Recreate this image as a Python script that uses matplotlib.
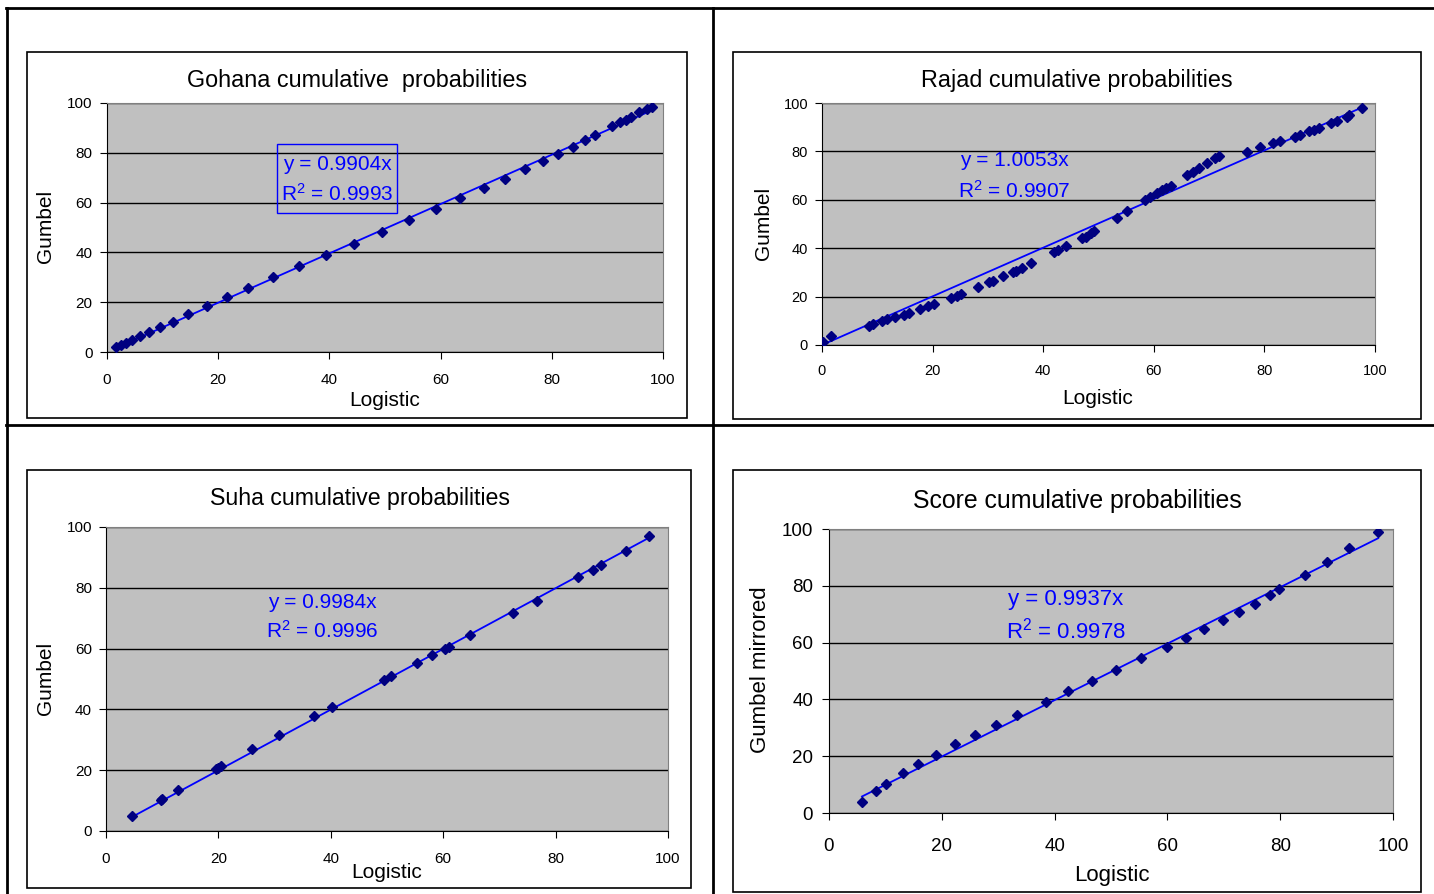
import matplotlib
matplotlib.use('Agg')
import matplotlib.pyplot as plt
from matplotlib.patches import Rectangle
from matplotlib.lines import Line2D

plt.rcParams['font.family'] = ['Liberation Sans', 'DejaVu Sans']
plt.rcParams['mathtext.fontset'] = 'custom'
plt.rcParams['mathtext.rm'] = 'Liberation Sans'
plt.rcParams['mathtext.default'] = 'regular'

W, H = 1434, 894

# Gohana
gohana_x = [1.64, 2.43, 3.41, 4.46, 5.90, 7.54, 9.51, 11.80, 14.62, 17.90, 21.51, 25.44,
            29.90, 34.56, 39.41, 44.46, 49.38, 54.36, 59.21, 63.54, 67.80, 71.54, 75.21,
            78.43, 81.18, 83.80, 85.90, 87.74, 90.89, 92.33, 93.31, 94.30, 95.74, 97.05, 98.03]
gohana_y = [2.00, 2.95, 3.76, 4.70, 6.44, 7.92, 10.07, 12.21, 15.17, 18.66, 22.01, 25.64,
            29.93, 34.36, 38.79, 43.49, 48.32, 52.89, 57.45, 61.88, 65.91, 69.66, 73.42,
            76.78, 79.60, 82.42, 84.97, 87.11, 90.60, 92.21, 93.29, 94.23, 96.24, 97.72, 98.39]

# Rajad
rajad_x = [0.13, 1.64, 8.55, 9.21, 10.86, 11.71, 13.29, 14.80, 15.79, 17.76, 19.08, 20.26,
           23.36, 24.34, 25.13, 28.29, 30.26, 30.92, 32.76, 34.54, 35.00, 36.18, 37.83,
           41.97, 42.63, 44.08, 47.04, 47.70, 48.68, 49.21, 53.29, 55.13, 58.42, 59.34,
           60.53, 61.51, 62.17, 63.03, 65.92, 67.11, 68.09, 69.61, 71.05, 71.71, 76.84,
           79.28, 81.58, 82.89, 85.53, 86.51, 88.03, 88.95, 89.80, 92.11, 93.09, 94.87,
           95.26, 97.70]
rajad_y = [1.38, 3.60, 8.02, 8.58, 9.96, 10.79, 11.62, 12.59, 13.42, 14.94, 15.91, 17.01,
           19.36, 20.19, 21.02, 23.93, 26.00, 26.56, 28.49, 30.15, 30.71, 31.81, 33.75,
           38.45, 39.14, 40.94, 44.26, 44.81, 46.20, 47.17, 52.28, 55.33, 60.03, 61.13,
           62.66, 63.90, 64.87, 65.84, 70.26, 71.65, 73.03, 75.38, 77.46, 78.28, 79.94,
           81.88, 83.40, 84.37, 86.03, 86.86, 88.24, 88.93, 89.63, 91.56, 92.39, 94.33,
           94.88, 97.93]

# Suha
suha_x = [4.63, 9.78, 10.05, 12.89, 19.50, 19.96, 20.49, 25.91, 30.80, 37.08, 40.25, 49.44,
          50.76, 55.25, 57.96, 60.34, 61.00, 64.84, 72.37, 76.67, 84.07, 86.58, 88.10,
          92.53, 96.63]
suha_y = [4.95, 10.12, 10.56, 13.53, 20.35, 20.79, 21.34, 26.95, 31.57, 37.95, 40.81, 49.61,
          50.94, 55.23, 57.76, 59.96, 60.62, 64.47, 71.62, 75.80, 83.39, 85.81, 87.57,
          92.19, 96.92]

# Score
score_x = [5.85, 8.34, 10.18, 13.14, 15.70, 19.05, 22.40, 25.82, 29.57, 33.31, 38.44, 42.38,
           46.65, 50.92, 55.39, 59.92, 63.21, 66.49, 69.78, 72.67, 75.56, 78.19, 79.83,
           84.43, 88.30, 92.12, 97.37]
score_y = [3.76, 7.76, 10.35, 14.12, 17.18, 20.59, 24.24, 27.41, 31.06, 34.47, 39.18, 42.82,
           46.47, 50.24, 54.59, 58.47, 61.65, 64.82, 67.88, 70.71, 73.76, 76.59, 78.71,
           83.76, 88.35, 93.18, 98.94]

titles = ['Gohana cumulative  probabilities', 'Rajad cumulative probabilities',
          'Suha cumulative probabilities', 'Score cumulative probabilities']
ylabels = ['Gumbel', 'Gumbel', 'Gumbel', 'Gumbel mirrored']
slopes = [0.9904, 1.0053, 0.9984, 0.9937]
r2s = ['0.9993', '0.9907', '0.9996', '0.9978']
ticks = [0, 20, 40, 60, 80, 100]

data = [(gohana_x, gohana_y), (rajad_x, rajad_y), (suha_x, suha_y), (score_x, score_y)]

# layout in pixels: plot area (l, t, r, b), chart box, title pos, label positions, text pos
panels = [
    dict(ax=(107, 103, 663, 352), box=(27, 52, 687, 418), title=(357, 80, 16.8),
         xl=(385, 400), yl=(46, 226), lab=15, tick=11, xpad=10, ypad=5.5,
         eq=(337, 164, 194, 15), frame=(277, 144, 397, 213)),
    dict(ax=(822, 103, 1375, 345), box=(733, 52, 1421, 419), title=(1077, 80, 16.8),
         xl=(1098, 398), yl=(764, 223), lab=15, tick=10.5, xpad=8.5, ypad=5,
         eq=(1014, 160, 191, 15), frame=None),
    dict(ax=(106, 527, 668, 831), box=(27, 470, 691, 888), title=(360, 498, 16.7),
         xl=(387, 873), yl=(46, 678), lab=15, tick=11, xpad=10, ypad=5,
         eq=(322, 602, 631, 15), frame=None),
    dict(ax=(829, 529, 1393, 813), box=(733, 470, 1421, 892), title=(1077, 501, 17.9),
         xl=(1112, 875), yl=(760, 670), lab=16, tick=13.5, xpad=13, ypad=6.5,
         eq=(1066, 600, 631, 16), frame=None),
]

fig = plt.figure(figsize=(W / 100, H / 100), dpi=100)

# table borders
for (x0, y0, x1, y1) in [(6, 8, 1434, 8), (7, 8, 7, 894), (713, 8, 713, 894), (6, 425, 1434, 425)]:
    fig.add_artist(Line2D([x0 / W, x1 / W], [1 - y0 / H, 1 - y1 / H], color='black', lw=2))

for p, (xs, ys), title, ylab, k, r2 in zip(panels, data, titles, ylabels, slopes, r2s):
    bx0, by0, bx1, by1 = p['box']
    fig.add_artist(Rectangle((bx0 / W, 1 - by1 / H), (bx1 - bx0) / W, (by1 - by0) / H,
                             fill=False, edgecolor='black', lw=1.2))
    l, t, r, b = p['ax']
    ax = fig.add_axes([l / W, 1 - b / H, (r - l) / W, (b - t) / H])
    ax.set_facecolor('#C0C0C0')
    ax.set_xlim(0, 100)
    ax.set_ylim(0, 100)
    ax.set_xticks(ticks)
    ax.set_yticks(ticks)
    ax.grid(axis='y', color='black', lw=1)
    ax.set_axisbelow(True)
    ax.tick_params(axis='x', direction='out', length=5, labelsize=p['tick'], pad=p['xpad'])
    ax.tick_params(axis='y', direction='out', length=5, labelsize=p['tick'], pad=p['ypad'])
    for s in ['top', 'right']:
        ax.spines[s].set_color('#808080')
    for s in ['left', 'bottom']:
        ax.spines[s].set_color('black')

    x_min, x_max = min(xs), max(xs)
    ax.plot([x_min, x_max], [k * x_min, k * x_max], color='#0000FF', lw=1.3, zorder=3)
    ax.plot(xs, ys, linestyle='none', marker='D', markersize=5, color='#000080', zorder=4)

    tx, ty, ts = p['title']
    fig.text(tx / W, 1 - ty / H, title, ha='center', va='center', fontsize=ts)
    fig.text(p['xl'][0] / W, 1 - p['xl'][1] / H, 'Logistic', ha='center', va='center',
             fontsize=p['lab'])
    fig.text(p['yl'][0] / W, 1 - p['yl'][1] / H, ylab, ha='center', va='center',
             fontsize=p['lab'], rotation=90)

    ex, ey1, ey2, es = p['eq']
    fig.text(ex / W, 1 - ey1 / H, 'y = %.4fx' % k, ha='center', va='center',
             fontsize=es, color='#0000FF')
    fig.text(ex / W, 1 - ey2 / H, 'R$^2$ = ' + r2, ha='center', va='center',
             fontsize=es, color='#0000FF')
    if p['frame']:
        fx0, fy0, fx1, fy1 = p['frame']
        fig.add_artist(Rectangle((fx0 / W, 1 - fy1 / H), (fx1 - fx0) / W, (fy1 - fy0) / H,
                                 fill=False, edgecolor='#0000FF', lw=1))

fig.savefig('out.png', dpi=100)
